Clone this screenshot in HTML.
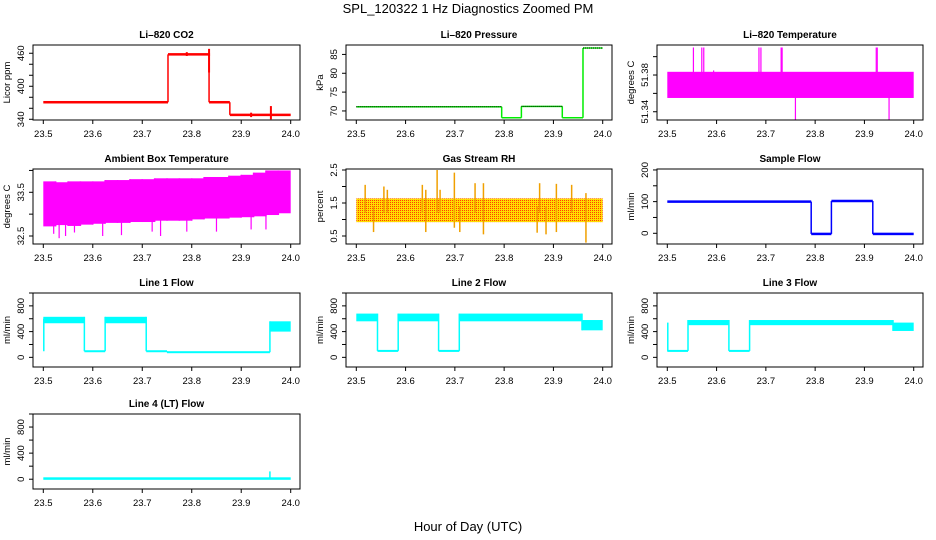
<!DOCTYPE html>
<html><head><meta charset="utf-8"><style>
html,body{margin:0;padding:0;background:#fff;}
svg{display:block;font-family:"Liberation Sans",Arial,sans-serif;}
</style></head><body>
<svg id="chart" width="936" height="540" viewBox="0 0 936 540" xmlns="http://www.w3.org/2000/svg">
<defs>
<pattern id="rhpat" width="2" height="2" patternUnits="userSpaceOnUse">
<rect width="2" height="2" fill="#ffdd00"/>
<rect x="0" y="0" width="1" height="1" fill="#ff4000"/>
</pattern>
</defs>
<text x="468" y="13" font-size="13" text-anchor="middle">SPL_120322  1 Hz Diagnostics Zoomed PM</text>
<text x="468" y="531" font-size="13" text-anchor="middle">Hour of Day (UTC)</text>
</svg>
<script>
// x ticks
const xTicks = [23.5, 23.6, 23.7, 23.8, 23.9, 24.0];
const xTickLabels = ["23.5", "23.6", "23.7", "23.8", "23.9", "24.0"];

// CO2
const co2T = [23.5, 23.752, 23.835, 23.877, 24.0];
const co2Lo = [371, 458, 371, 348];
const co2Hi = [371, 458, 371, 348];
const co2SpikeT = [23.79, 23.835, 23.835, 23.92, 23.96];
const co2SpikeLo = [455, 425, 455, 344, 340];
const co2SpikeHi = [462, 468, 460, 352, 364];
// Pressure
const presT = [23.5, 23.795, 23.835, 23.918, 23.96, 24.0];
const presLo = [71.1, 68.2, 71.2, 68.2, 86.7];
const presHi = [71.1, 68.2, 71.2, 68.2, 86.7];
// Li-820 Temperature
const ltT = [23.5, 24.0];
const ltLo = [51.355];
const ltHi = [51.3835];
const ltSpikeT = [23.553, 23.570, 23.574, 23.594, 23.686, 23.690, 23.731, 23.733, 23.924, 23.926, 23.760, 23.950];
const ltSpikeLo = [51.38, 51.38, 51.38, 51.38, 51.38, 51.38, 51.38, 51.38, 51.38, 51.38, 51.331, 51.331];
const ltSpikeHi = [51.41, 51.41, 51.41, 51.385, 51.41, 51.41, 51.41, 51.41, 51.41, 51.41, 51.36, 51.36];
// Ambient box temperature
const abT = [23.5, 23.525, 23.55, 23.575, 23.6, 23.625, 23.65, 23.675, 23.7, 23.725, 23.75, 23.775, 23.8, 23.825, 23.85, 23.875, 23.9, 23.925, 23.95, 23.975, 24.0];
const abLo = [32.72, 32.75, 32.73, 32.76, 32.78, 32.8, 32.8, 32.82, 32.82, 32.85, 32.85, 32.85, 32.88, 32.9, 32.9, 32.92, 32.93, 32.95, 32.98, 33.02];
const abHi = [33.75, 33.73, 33.75, 33.75, 33.75, 33.78, 33.78, 33.8, 33.8, 33.82, 33.82, 33.82, 33.82, 33.85, 33.85, 33.88, 33.9, 33.95, 34.0, 34.0];
const abSpikeT = [23.521, 23.532, 23.545, 23.563, 23.62, 23.658, 23.72, 23.737, 23.79, 23.85, 23.92, 23.95];
const abSpikeLo = [32.55, 32.45, 32.5, 32.58, 32.5, 32.52, 32.6, 32.5, 32.6, 32.6, 32.65, 32.65];
const abSpikeHi = [33.2, 33.2, 33.2, 33.2, 33.2, 33.2, 33.2, 33.2, 33.2, 33.2, 33.2, 33.2];
// Gas stream RH
const rhT = [23.5, 24.0];
const rhLo = [0.92];
const rhHi = [1.64];
const rhSpikeT = [23.518, 23.535, 23.556, 23.563, 23.634, 23.641, 23.664, 23.67, 23.699, 23.71, 23.741, 23.758, 23.867, 23.872, 23.885, 23.906, 23.937, 23.966];
const rhSpikeLo = [1.2, 0.62, 1.2, 1.2, 1.2, 0.62, 1.2, 1.2, 0.75, 0.62, 1.2, 0.55, 0.6, 1.2, 0.55, 0.62, 1.2, 0.3];
const rhSpikeHi = [2.05, 1.4, 2.0, 1.9, 2.05, 1.9, 2.5, 1.9, 2.42, 1.4, 2.1, 2.1, 1.4, 2.1, 1.4, 2.08, 2.05, 1.8];
// Sample flow
const sfT = [23.5, 23.792, 23.833, 23.917, 24.0];
const sfLo = [100, -2, 102, -2];
const sfHi = [100, -2, 102, -2];
// Line 1
const l1T = [23.5, 23.583, 23.625, 23.708, 23.75, 23.958, 24.0];
const l1Lo = [530, 95, 530, 95, 80, 400];
const l1Hi = [630, 95, 630, 95, 80, 560];
const l1SpikeT = [23.501];
const l1SpikeLo = [95];
const l1SpikeHi = [600];
// Line 2
const l2T = [23.5, 23.543, 23.585, 23.667, 23.709, 23.958, 24.0];
const l2Lo = [560, 100, 560, 100, 560, 420];
const l2Hi = [680, 100, 680, 100, 680, 580];
// Line 3
const l3T = [23.5, 23.542, 23.625, 23.667, 23.958, 24.0];
const l3Lo = [100, 500, 100, 500, 410];
const l3Hi = [100, 580, 100, 580, 540];
const l3SpikeT = [23.501];
const l3SpikeLo = [100];
const l3SpikeHi = [540];
// Line 4
const l4T = [23.5, 24.0];
const l4Lo = [10];
const l4Hi = [10];
const l4SpikeT = [23.958];
const l4SpikeLo = [10];
const l4SpikeHi = [120];

const NS = "http://www.w3.org/2000/svg";
const svg = document.getElementById("chart");
function mk(tag, attrs, parent) {
  const e = document.createElementNS(NS, tag);
  for (const k in attrs) e.setAttribute(k, attrs[k]);
  (parent || svg).appendChild(e);
  return e;
}
const cols = [[33, 300], [346, 612], [657, 923]];
const rows = [[45, 120], [169, 244], [293, 367], [414, 489]];

function panel(cfg) {
  const [L, R] = cols[cfg.col], [T, B] = rows[cfg.row];
  const g = mk("g", {});
  
  
  const x0 = L + 10.3, x1 = R - 9.3;
  const xs = v => x0 + (v - 23.5) / 0.5 * (x1 - x0);
  const ys = v => B - (v - cfg.ymin) / (cfg.ymax - cfg.ymin) * (B - T);
  const dg = mk("g", {}, g);
  
  
  const sw = cfg.sw || 2;
  const fill = cfg.fill || cfg.color;
  for (let i = 0; i < cfg.lo.length; i++) {
    const xa = xs(cfg.t[i]), xb = xs(cfg.t[i + 1]);
    let ya = ys(cfg.hi[i]), yb = ys(cfg.lo[i]);
    if (yb - ya < sw) { const m = (ya + yb) / 2; ya = m - sw / 2; yb = m + sw / 2; }
    const r = mk("rect", {x: xa, y: ya, width: Math.max(xb - xa, 1), height: yb - ya, fill: fill}, dg);
    
    
    if (i + 1 < cfg.lo.length) {
      const top = Math.min(ys(cfg.hi[i]), ys(cfg.hi[i + 1]));
      const bot = Math.max(ys(cfg.lo[i]), ys(cfg.lo[i + 1]));
      const c = mk("line", {x1: xb, x2: xb, y1: top, y2: bot, stroke: cfg.color, "stroke-width": 1.5}, dg);
      
      
    }
  }
  if (cfg.dotted) {
    for (let i = 0; i < cfg.lo.length; i++) {
      if (!cfg.dotted[i]) continue;
      const d = mk("line", {x1: xs(cfg.t[i]), x2: xs(cfg.t[i + 1]), y1: ys(cfg.hi[i]), y2: ys(cfg.hi[i]), stroke: "#000", "stroke-width": 1, "stroke-dasharray": "1 1"}, dg);
      
      
    }
  }
  if (cfg.st) {
    for (let i = 0; i < cfg.st.length; i++) {
      const s = mk("line", {x1: xs(cfg.st[i]), x2: xs(cfg.st[i]), y1: ys(cfg.sh[i]), y2: ys(cfg.sl[i]), stroke: cfg.spikeColor || cfg.color, "stroke-width": cfg.spikeW || 1.5}, dg);
      
      
    }
  }
  const bx = mk("rect", {x: L, y: T, width: R - L, height: B - T, fill: "none", stroke: "#000", "stroke-width": 1}, g);
  
  
  const tt = mk("text", {x: (L + R) / 2, y: T - 7, "font-size": 10, "font-weight": "bold", "text-anchor": "middle"}, g);
  tt.textContent = cfg.title;
  
  
  const xa = mk("line", {x1: xs(23.5), x2: xs(24.0), y1: B, y2: B, stroke: "#000"}, g);
  
  
  xTicks.forEach((v, i) => {
    const tk = mk("line", {x1: xs(v), x2: xs(v), y1: B, y2: B + 4, stroke: "#000"}, g);
    
    
    const tl = mk("text", {x: xs(v), y: B + 17, "font-size": 9.5, "text-anchor": "middle"}, g);
    tl.textContent = xTickLabels[i];
    
    
  });
  const ya = mk("line", {x1: L, x2: L, y1: ys(cfg.yt[0]), y2: ys(cfg.yt[cfg.yt.length - 1]), stroke: "#000"}, g);
  
  
  cfg.yt.forEach(v => {
    const tk = mk("line", {x1: L - 4, x2: L, y1: ys(v), y2: ys(v), stroke: "#000"}, g);
    
    
  });
  cfg.yl.forEach((lab, i) => {
    const y = ys(cfg.ylv[i]);
    const tl = mk("text", {x: 0, y: 0, "font-size": 9.5, "text-anchor": "middle", transform: `translate(${L - 9},${y}) rotate(-90)`}, g);
    tl.textContent = lab;
    
    
  });
  const yt = mk("text", {x: 0, y: 0, "font-size": 9.5, "text-anchor": "middle", transform: `translate(${L - 23},${(T + B) / 2}) rotate(-90)`}, g);
  yt.textContent = cfg.ytitle;
  
  
}

panel({name: "panel-li820-co2", col: 0, row: 0, title: "Li\u2013820 CO2", ytitle: "Licor ppm", color: "#ff0000",
  ymin: 338.7, ymax: 475, yt: [340, 360, 380, 400, 420, 440, 460], yl: ["340", "400", "460"], ylv: [340, 400, 460],
  t: co2T, lo: co2Lo, hi: co2Hi, st: co2SpikeT, sl: co2SpikeLo, sh: co2SpikeHi, sw: 2.5, spikeW: 2});
panel({name: "panel-li820-pressure", col: 1, row: 0, title: "Li\u2013820 Pressure", ytitle: "kPa", color: "#00ee00",
  ymin: 67.6, ymax: 87.5, yt: [70, 75, 80, 85], yl: ["70", "75", "80", "85"], ylv: [70, 75, 80, 85],
  t: presT, lo: presLo, hi: presHi, sw: 1.5, dotted: [true, false, true, false, true]});
panel({name: "panel-li820-temperature", col: 2, row: 0, title: "Li\u2013820 Temperature", ytitle: "degrees C", color: "#ff00ff",
  ymin: 51.331, ymax: 51.4127, yt: [51.34, 51.36, 51.38, 51.40], yl: ["51.34", "51.38"], ylv: [51.34, 51.38],
  t: ltT, lo: ltLo, hi: ltHi, st: ltSpikeT, sl: ltSpikeLo, sh: ltSpikeHi, spikeW: 1.2});
panel({name: "panel-ambient-box-temperature", col: 0, row: 1, title: "Ambient Box Temperature", ytitle: "degrees C", color: "#ff00ff",
  ymin: 32.317, ymax: 34.033, yt: [32.5, 33, 33.5, 34], yl: ["32.5", "33.5"], ylv: [32.5, 33.5],
  t: abT, lo: abLo, hi: abHi, st: abSpikeT, sl: abSpikeLo, sh: abSpikeHi, spikeW: 1.2});
panel({name: "panel-gas-stream-rh", col: 1, row: 1, title: "Gas Stream RH", ytitle: "percent", color: "#ffaa00", fill: "url(#rhpat)",
  ymin: 0.258, ymax: 2.53, yt: [0.5, 1, 1.5, 2, 2.5], yl: ["0.5", "1.5", "2.5"], ylv: [0.5, 1.5, 2.5],
  t: rhT, lo: rhLo, hi: rhHi, st: rhSpikeT, sl: rhSpikeLo, sh: rhSpikeHi, spikeColor: "#f0a000", spikeW: 1.5});
panel({name: "panel-sample-flow", col: 2, row: 1, title: "Sample Flow", ytitle: "ml/min", color: "#0000ff",
  ymin: -33.8, ymax: 203, yt: [0, 50, 100, 150, 200], yl: ["0", "100", "200"], ylv: [0, 100, 200],
  t: sfT, lo: sfLo, hi: sfHi, sw: 2.5});
const flowCfg = {ymin: -150, ymax: 1000, yt: [0, 200, 400, 600, 800, 1000], yl: ["0", "400", "800"], ylv: [0, 400, 800], ytitle: "ml/min", color: "#00ffff", sw: 2};
panel(Object.assign({}, flowCfg, {name: "panel-line1-flow", col: 0, row: 2, title: "Line 1 Flow", t: l1T, lo: l1Lo, hi: l1Hi,
  st: l1SpikeT, sl: l1SpikeLo, sh: l1SpikeHi}));
panel(Object.assign({}, flowCfg, {name: "panel-line2-flow", col: 1, row: 2, title: "Line 2 Flow", t: l2T, lo: l2Lo, hi: l2Hi}));
panel(Object.assign({}, flowCfg, {name: "panel-line3-flow", col: 2, row: 2, title: "Line 3 Flow", t: l3T, lo: l3Lo, hi: l3Hi,
  st: l3SpikeT, sl: l3SpikeLo, sh: l3SpikeHi}));
panel(Object.assign({}, flowCfg, {name: "panel-line4-lt-flow", col: 0, row: 3, title: "Line 4 (LT) Flow", t: l4T, lo: l4Lo, hi: l4Hi, sw: 2.5,
  st: l4SpikeT, sl: l4SpikeLo, sh: l4SpikeHi}));
</script>
</body></html>
